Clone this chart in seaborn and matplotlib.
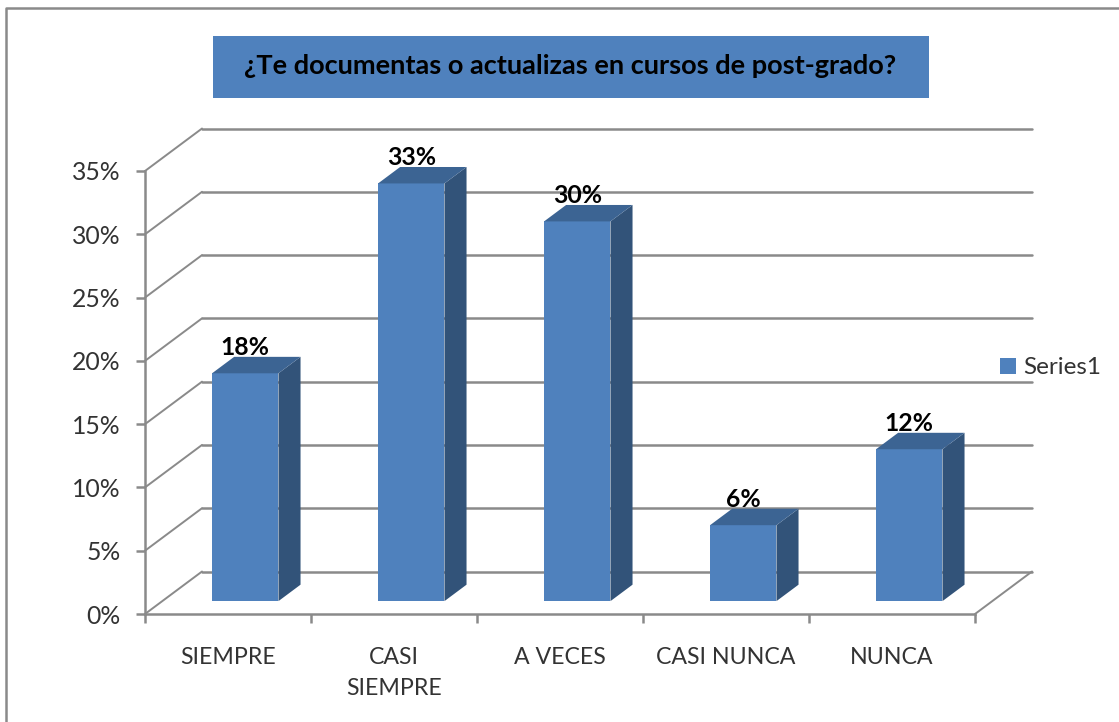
import matplotlib
matplotlib.use("Agg")
import matplotlib.pyplot as plt
import pandas as pd
import seaborn as sns
from matplotlib.lines import Line2D
from matplotlib.patches import Polygon, Rectangle

categories = ["SIEMPRE", "CASI\nSIEMPRE", "A VECES", "CASI NUNCA", "NUNCA"]
values = [18, 33, 30, 6, 12]
y_ticks = [0, 5, 10, 15, 20, 25, 30, 35]
title = "¿Te documentas o actualizas en cursos de post-grado?"
series_name = "Series1"

W, H = 1119, 722
GRAY = "#8a8a8a"
FRONT = "#4f81bd"
SIDE = "#325379"
TOP = "#3c6493"
TXT = "#333333"

sns.set_theme(style="white")
plt.rcParams["font.family"] = ["Lato", "DejaVu Sans"]

fig = plt.figure(figsize=(W / 100, H / 100), dpi=100, facecolor="white")
# axes = the front plane of the fake 3D box, in pixels of the original
ax = fig.add_axes([145 / W, (H - 614) / H, 830 / W, 443 / H])
ax.set_facecolor("none")

df = pd.DataFrame({"cat": categories, "value": values})
sns.barplot(data=df, x="cat", y="value", width=0.4, color=FRONT, saturation=1,
            label=series_name, ax=ax, zorder=3)
ax.set_xlim(-0.5, 4.5)
ax.set_ylim(0, 35)

# depth of the box, one unit of depth = back wall, in data units
depth_x = 57 / 166
depth_y = 42.5 / 12.66
bar_front = 0.303
bar_back = 0.69


def pt(x, y, d):
    return (x + d * depth_x, y + d * depth_y)


# back wall lines and the diagonals on the side wall
for v in y_ticks:
    ax.add_line(Line2D(*zip(pt(-0.5, v, 1), pt(4.5, v, 1)), color=GRAY, lw=1.8,
                       clip_on=False, zorder=1))
    ax.add_line(Line2D(*zip(pt(-0.5, v, 0), pt(-0.5, v, 1)), color=GRAY, lw=1.4,
                       clip_on=False, zorder=1))
ax.add_line(Line2D(*zip(pt(4.5, 0, 0), pt(4.5, 0, 1)), color=GRAY, lw=1.4,
                   clip_on=False, zorder=1))

# move the bars into the box and give them a side and a top
bars = [p for p in ax.patches if isinstance(p, Rectangle)]
for bar, v in zip(bars, values):
    x0 = bar.get_x()
    x1 = x0 + bar.get_width()
    fx0, fy0 = pt(x0, 0, bar_front)
    fx1, fy1 = pt(x1, v, bar_front)
    bar.set_x(fx0)
    bar.set_y(fy0)
    bar.set_linewidth(0)
    bar.set_clip_on(False)
    ax.add_patch(Polygon([pt(x1, 0, bar_front), pt(x1, 0, bar_back),
                          pt(x1, v, bar_back), pt(x1, v, bar_front)],
                         facecolor=SIDE, lw=0, clip_on=False, zorder=3))
    ax.add_patch(Polygon([pt(x0, v, bar_front), pt(x1, v, bar_front),
                          pt(x1, v, bar_back), pt(x0, v, bar_back)],
                         facecolor=TOP, lw=0, clip_on=False, zorder=3))
    ax.text((fx0 + fx1) / 2, fy1 + 18 / 12.66, f"{v}%", ha="center", va="baseline",
            fontsize=17.8, fontweight="bold", color="black", zorder=4)

# axes, ticks
sns.despine(ax=ax, top=True, right=True)
for side in ["left", "bottom"]:
    ax.spines[side].set_color(GRAY)
    ax.spines[side].set_linewidth(1.8)
ax.set_xlabel("")
ax.set_ylabel("")
ax.set_yticks(y_ticks)
ax.set_yticklabels([f"{v}%" for v in y_ticks])
ax.set_xticks(range(len(categories)))
ax.set_xticklabels(categories, linespacing=1.58)
ax.set_xticks([i - 0.5 for i in range(len(categories) + 1)], minor=True)
ax.tick_params(axis="y", left=True, length=6.5, width=1.8, color=GRAY, pad=11,
               labelsize=17.8, labelcolor=TXT)
ax.tick_params(axis="x", which="major", bottom=False, pad=18, labelsize=16.7, labelcolor=TXT)
ax.tick_params(axis="x", which="minor", bottom=True, length=6.5, width=1.8, color=GRAY)

# legend
ax.legend(loc="center left", bbox_to_anchor=(1000 / W, (H - 368) / H),
          bbox_transform=fig.transFigure, frameon=False, fontsize=17.5,
          labelcolor=TXT, handlelength=0.66, handleheight=0.66, handletextpad=0.3,
          borderpad=0, borderaxespad=0)

# title box
fig.add_artist(Rectangle((213 / W, (H - 98) / H), 716 / W, 62 / H, facecolor=FRONT,
                         edgecolor="none", transform=fig.transFigure))
fig.text(570 / W, (H - 66) / H, title, ha="center", va="center", fontsize=19.5,
         fontweight="bold", color="black")

# chart frame, only left and top are in the crop
fig.add_artist(Line2D([6 / W, 6 / W, 1], [0, (H - 8) / H, (H - 8) / H], color=GRAY,
                      lw=1.8, transform=fig.transFigure))

fig.savefig("out.png", dpi=100)
